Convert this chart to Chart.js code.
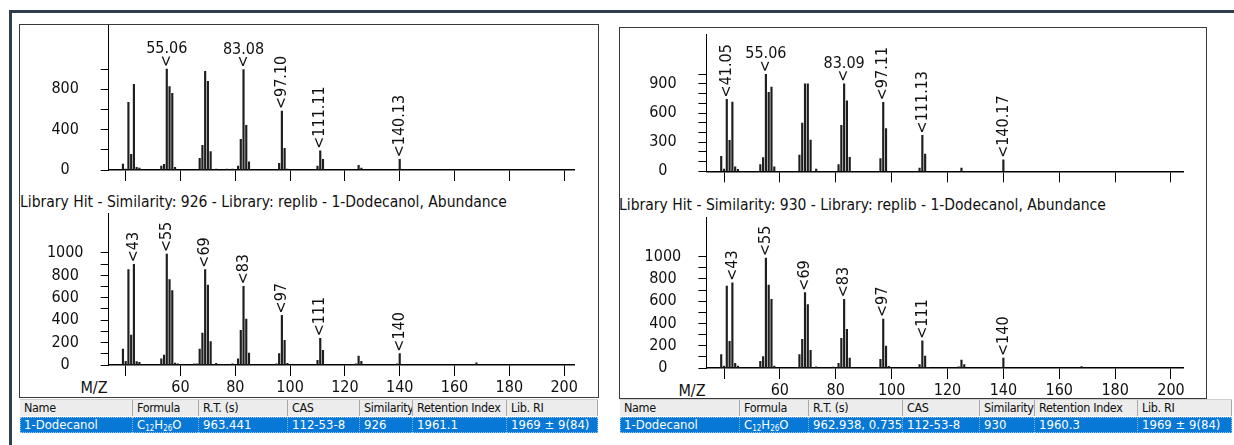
<!DOCTYPE html>
<html>
<head>
<meta charset="utf-8">
<script src="https://cdn.jsdelivr.net/npm/chart.js@4.4.0/dist/chart.umd.min.js"></script>
<style>
  body { margin: 0; width: 1234px; height: 445px; overflow: hidden; background: #fff; position: relative;
         font-family: "DejaVu Sans Condensed", "DejaVu Sans", sans-serif; color: #111; }
  .abs { position: absolute; }
  .frame { background: #2f3e4a; }
  .box { border: 1px solid #3a3a3a; box-sizing: border-box; }
  .title { font-size: 15.5px; white-space: nowrap; line-height: 18px; }
  .mz { font-size: 16px; transform: translate(-50%, -50%); }
  .tr { display: flex; height: 16px; line-height: 16px; font-size: 13px; }
  .tr span { box-sizing: border-box; padding-left: 4px; white-space: nowrap; overflow: hidden; }
  .hd { background: #ececec; border-top: 1px solid #cfcfcf; font-size: 12.5px; letter-spacing: -0.35px; }
  .hd span { border-right: 1px solid #a9a9a9; }
  .sel { background: #0878d6; color: #fff; margin-top: 1px; outline: 1px dotted #9cc8f0; outline-offset: -1px; }
  .sel span { border-right: 1px dotted #8cbcea; }
  sub { font-size: 8px; vertical-align: -2px; line-height: 0; }
</style>
</head>
<body>
<div class="abs frame" style="left:9px;top:10px;width:1225px;height:3px"></div>
<div class="abs frame" style="left:9px;top:10px;width:3px;height:435px"></div>
<div class="abs box" style="left:19px;top:24px;width:580px;height:374px"></div>
<div class="abs box" style="left:619px;top:27px;width:588px;height:372px"></div>
<div class="abs title" style="left:20px;top:193px">Library Hit - Similarity: 926 - Library: replib - 1-Dodecanol, Abundance</div>
<div class="abs title" style="left:619px;top:196px">Library Hit - Similarity: 930 - Library: replib - 1-Dodecanol, Abundance</div>
<div class="abs mz" style="left:94px;top:387px">M/Z</div>
<div class="abs mz" style="left:692px;top:390px">M/Z</div>
<div id="tblL" class="abs" style="left:20px;top:399px"></div>
<div id="tblR" class="abs" style="left:620px;top:399px"></div>
<script>
const FONT = '"DejaVu Sans Condensed", "DejaVu Sans", sans-serif';

// m/z axis
const xTicks = [40, 60, 80, 100, 120, 140, 160, 180, 200];

// left result: measured spectrum
const leftSampleMz = [39, 40, 41, 42, 43, 44, 45, 53, 54, 55, 56, 57, 58, 67, 68, 69, 70, 71, 73, 77, 79,
  81, 82, 83, 84, 85, 96, 97, 98, 99, 110, 111, 112, 125, 126, 139, 140];
const leftSampleAb = [59, 10, 670, 155, 848, 26, 20, 40, 56, 1000, 825, 760, 26, 115, 244, 977, 878, 182, 10, 8, 10,
  40, 304, 995, 442, 80, 66, 584, 215, 10, 40, 191, 106, 46, 20, 6, 106];
const leftSampleTicks = [0, 200, 400, 600, 800, 1000];
const leftSampleLabels = [0, 400, 800];
const leftSamplePeaks = [55, 83, 97, 111, 140];
const leftSamplePeakText = ['55.06', '83.08', '97.10', '111.11', '140.13'];
const leftSampleFlat = [55, 83];

// left result: library spectrum
const leftLibMz = [39, 40, 41, 42, 43, 44, 45, 53, 54, 55, 56, 57, 58, 59, 65, 66, 67, 68, 69, 70, 71, 73, 79,
  81, 82, 83, 84, 85, 95, 96, 97, 98, 99, 110, 111, 112, 124, 125, 126, 139, 140, 168];
const leftLibAb = [143, 33, 851, 268, 899, 30, 24, 54, 89, 990, 762, 664, 18, 10, 10, 10, 143, 286, 851, 714, 208, 15, 10,
  54, 310, 702, 411, 107, 10, 101, 443, 220, 15, 42, 238, 131, 10, 80, 33, 10, 101, 20];

// right result: measured spectrum
const rightSampleMz = [39, 40, 41, 42, 43, 44, 45, 53, 54, 55, 56, 57, 58, 67, 68, 69, 70, 71, 73,
  81, 82, 83, 84, 85, 96, 97, 98, 110, 111, 112, 125, 140];
const rightSampleAb = [155, 23, 741, 320, 713, 46, 20, 68, 142, 1000, 815, 869, 46, 166, 496, 902, 902, 323, 23,
  68, 473, 902, 725, 145, 131, 712, 440, 33, 370, 178, 33, 118];
const rightSampleTicks = [0, 100, 200, 300, 400, 500, 600, 700, 800, 900, 1000];
const rightSampleLabels = [0, 300, 600, 900];
const rightSamplePeaks = [41, 55, 83, 97, 111, 140];
const rightSamplePeakText = ['41.05', '55.06', '83.09', '97.11', '111.13', '140.17'];
const rightSampleFlat = [55, 83];

// right result: library spectrum
const rightLibMz = [39, 40, 41, 42, 43, 44, 45, 53, 54, 55, 56, 57, 58, 66, 67, 68, 69, 70, 71, 73, 79,
  81, 82, 83, 84, 85, 95, 96, 97, 98, 99, 110, 111, 112, 113, 124, 125, 126, 139, 140, 168];
const rightLibAb = [120, 18, 737, 240, 766, 42, 18, 60, 102, 988, 746, 617, 18, 6, 120, 257, 677, 569, 159, 10, 8,
  42, 266, 617, 347, 90, 6, 78, 440, 198, 15, 30, 245, 108, 6, 10, 72, 30, 6, 90, 12];

// library plots share ticks and labelled peaks
const libTicks = [0, 100, 200, 300, 400, 500, 600, 700, 800, 900, 1000];
const libLabels = [0, 200, 400, 600, 800, 1000];
const libPeaks = [43, 55, 69, 83, 97, 111, 140];
const libPeakText = ['43', '55', '69', '83', '97', '111', '140'];

// hit tables
const columns = ['Name', 'Formula', 'R.T. (s)', 'CAS', 'Similarity', 'Retention Index', 'Lib. RI'];
const leftRow = ['1-Dodecanol', 'C<sub>12</sub>H<sub>26</sub>O', '963.441', '112-53-8', '926', '1961.1', '1969 ± 9(84)'];
const rightRow = ['1-Dodecanol', 'C<sub>12</sub>H<sub>26</sub>O', '962.938, 0.735', '112-53-8', '930', '1960.3', '1969 ± 9(84)'];

const peakLabels = {
  id: 'peakLabels',
  afterDatasetsDraw(chart, args, opts) {
    const { ctx, scales: { x, y } } = chart;
    ctx.save();
    ctx.fillStyle = '#111';
    ctx.font = '16px ' + FONT;
    for (const m of opts.marks) {
      const px = x.getPixelForValue(m.mz);
      const py = y.getPixelForValue(m.h);
      ctx.save();
      ctx.translate(px, py - 2);
      ctx.rotate(-Math.PI / 2);
      ctx.textAlign = 'left';
      ctx.textBaseline = 'middle';
      ctx.fillText(m.flat ? '<' : '<' + m.text, 0, 0);
      ctx.restore();
      if (m.flat) {
        ctx.textAlign = 'center';
        ctx.textBaseline = 'bottom';
        ctx.fillText(m.text, px, py - 12);
      }
    }
    ctx.restore();
  }
};

function measure(text) {
  const c = document.createElement('canvas').getContext('2d');
  c.font = '16px ' + FONT;
  return c.measureText(text).width;
}

function spectrum(g, mz, ab, yTicks, yLabels, peaks, peakText, flat, showX) {
  const canvas = document.createElement('canvas');
  canvas.width = g.w;
  canvas.height = g.h;
  canvas.style.cssText = `position:absolute;left:${g.x}px;top:${g.y}px;width:${g.w}px;height:${g.h}px`;
  document.body.appendChild(canvas);

  const widest = Math.max(...yLabels.map(v => measure(String(v))));
  const marks = peaks.map((p, i) => ({ mz: p, h: ab[mz.indexOf(p)], text: peakText[i], flat: flat.includes(p) }));

  return new Chart(canvas.getContext('2d'), {
    type: 'bar',
    data: {
      datasets: [{
        data: mz.map((m, i) => ({ x: m, y: ab[i] })),
        backgroundColor: '#1e1e1e',
        barThickness: 1.5,
        borderWidth: 0,
      }]
    },
    options: {
      responsive: false,
      animation: false,
      events: [],
      devicePixelRatio: 1,
      layout: { padding: { left: 0, top: g.top - g.y, right: g.x + g.w - g.right, bottom: 0 } },
      plugins: { legend: { display: false }, tooltip: { enabled: false }, peakLabels: { marks } },
      scales: {
        x: {
          type: 'linear', offset: false, min: g.xMin, max: g.xMax,
          afterBuildTicks: s => { s.ticks = xTicks.map(v => ({ value: v })); },
          afterFit: s => { s.height = g.y + g.h - g.bottom; s.paddingLeft = 0; s.paddingRight = 0; },
          grid: { offset: false, drawOnChartArea: false, tickLength: 11, color: '#000' },
          border: { color: '#000', width: 1.5 },
          ticks: {
            display: showX, autoSkip: false, maxRotation: 0, padding: 2, color: '#111',
            font: { family: FONT, size: 16 },
            callback: v => v === 40 ? '' : String(v),
          }
        },
        y: {
          min: 0, max: g.yMax,
          afterBuildTicks: s => { s.ticks = yTicks.map(v => ({ value: v })); },
          afterFit: s => { s.width = g.left - g.x; s.paddingTop = 0; s.paddingBottom = 0; },
          grid: { drawOnChartArea: false, tickLength: 8, color: '#000' },
          border: { color: '#000', width: 1 },
          ticks: {
            autoSkip: false,
            crossAlign: 'center', padding: 43.5 - 8 - widest / 2, color: '#111',
            font: { family: FONT, size: 16 },
            callback: v => yLabels.includes(v) ? String(v) : '',
          }
        }
      }
    },
    plugins: [peakLabels]
  });
}

function table(el, widths, row) {
  const hd = document.createElement('div');
  hd.className = 'tr hd';
  hd.innerHTML = columns.map((c, i) => `<span style="width:${widths[i]}px">${c}</span>`).join('');
  const sel = document.createElement('div');
  sel.className = 'tr sel';
  sel.innerHTML = row.map((c, i) => `<span style="width:${widths[i]}px">${c}</span>`).join('');
  el.appendChild(hd);
  el.appendChild(sel);
}

spectrum({ x: 19, y: 0, w: 580, h: 200, left: 108.7, top: 25, right: 574, bottom: 170, xMin: 33.8, xMax: 203.6, yMax: 1436 },
  leftSampleMz, leftSampleAb, leftSampleTicks, leftSampleLabels, leftSamplePeaks, leftSamplePeakText, leftSampleFlat, false);
spectrum({ x: 19, y: 205, w: 580, h: 192, left: 108.7, top: 213, right: 574, bottom: 365, xMin: 33.8, xMax: 203.6, yMax: 1357 },
  leftLibMz, leftLibAb, libTicks, libLabels, libPeaks, libPeakText, [], true);
spectrum({ x: 619, y: 0, w: 587, h: 200, left: 706.4, top: 34, right: 1183, bottom: 171.3, xMin: 33.7, xMax: 204.3, yMax: 1415 },
  rightSampleMz, rightSampleAb, rightSampleTicks, rightSampleLabels, rightSamplePeaks, rightSamplePeakText, rightSampleFlat, false);
spectrum({ x: 619, y: 208, w: 587, h: 190, left: 706.4, top: 217, right: 1183, bottom: 368, xMin: 33.7, xMax: 204.3, yMax: 1357 },
  rightLibMz, rightLibAb, libTicks, libLabels, libPeaks, libPeakText, [], true);

table(document.getElementById('tblL'), [113, 66, 89, 72, 53, 94, 91], leftRow);
table(document.getElementById('tblR'), [120, 69, 94, 77, 55, 103, 94], rightRow);
</script>
</body>
</html>
